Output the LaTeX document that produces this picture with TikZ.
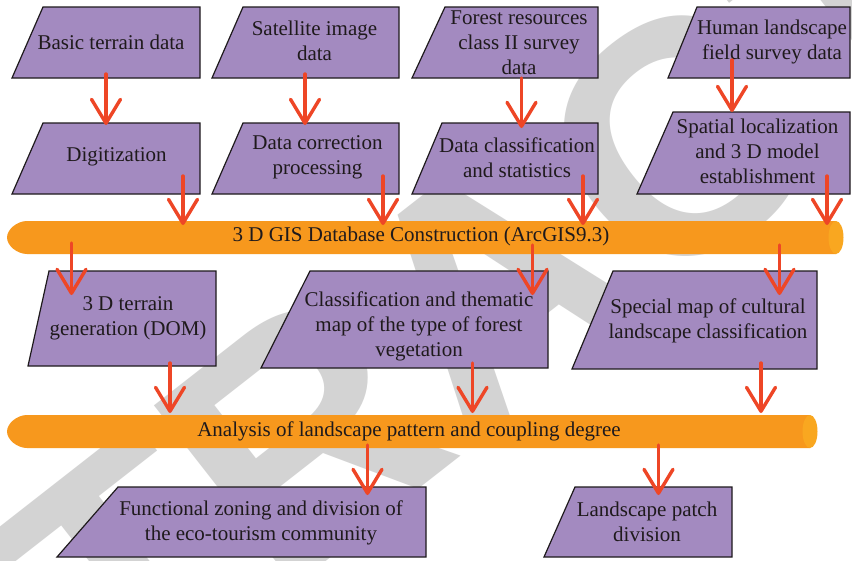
\documentclass[tikz,border=0pt]{standalone}
\usepackage{fontspec}
\setmainfont{Liberation Serif}
\newfontfamily\markfont{Liberation Sans}
\usetikzlibrary{arrows.meta,calc}

\definecolor{boxfill}{HTML}{A38AC0}
\definecolor{boxline}{HTML}{1E1A1C}
\definecolor{pipebody}{HTML}{F7981D}
\definecolor{pipecap}{HTML}{F9A720}
\definecolor{flowred}{HTML}{EE4626}
\definecolor{markgray}{HTML}{D3D3D3}
\definecolor{inktext}{HTML}{1F1A1C}

\tikzset{
  boxshape/.style={fill=boxfill, draw=boxline, line width=1.2pt, line join=miter},
  boxframe/.style={inner sep=0pt, outer sep=0pt, draw=none},
  boxtext/.style={font=\fontsize{21}{25}\selectfont, align=center, inner sep=0pt, text=inktext},
  flow/.style={draw=flowred, line width=3.4pt, line cap=round,
    -{Straight Barb[length=24pt, width=29pt, round]}},
  watermark/.style={font=\markfont\bfseries\fontsize{332}{332}\selectfont,
    text=markgray, inner sep=0pt},
}

% slanted box: #1 name, #2 bottom-left x, #3 top-left x, #4 right x,
% #5 top y, #6 bottom y, #7 text x, #8 text y, #9 text
\newcommand\slantbox[9]{%
  \filldraw[boxshape] (#2,#6) -- (#3,#5) -- (#4,#5) -- (#4,#6) -- cycle;
  \node[boxframe, minimum width={(#4-#2)*1pt}, minimum height={(#6-#5)*1pt}]
    (#1) at ({(#2+#4)/2},{(#5+#6)/2}) {};
  \node[boxtext] (#1-text) at (#7,#8) {#9};
}

% horizontal pipe: #1 name, #2 left tip x, #3 end-cap centre x, #4 top y,
% #5 bottom y, #6 text x, #7 text y, #8 text
\newcommand\flowpipe[8]{%
  \fill[pipebody] ({#2+20},#4) -- (#3,#4) -- (#3,#5) -- ({#2+20},#5)
     .. controls ({#2+10},#5) and (#2,{(#4+#5)/2+8}) .. (#2,{(#4+#5)/2})
     .. controls (#2,{(#4+#5)/2-8}) and ({#2+10},#4) .. ({#2+20},#4) -- cycle;
  \fill[pipecap] (#3,{(#4+#5)/2}) ellipse[x radius=7.5, y radius={(#5-#4)/2}];
  \node[boxframe, minimum width={(#3+7.5-#2)*1pt}, minimum height={(#5-#4)*1pt}]
    (#1) at ({(#2+#3+7.5)/2},{(#4+#5)/2}) {};
  \node[boxtext] (#1-text) at (#6,#7) {#8};
}

\begin{document}
\begin{tikzpicture}[x=1pt, y=-1pt]
  \clip (0,0) rectangle (852,560);
  \fill[white] (0,0) rectangle (852,560);

  % background stamp
  \node[watermark, rotate=38] (stamp) at (491,288) {RETRACTED};

  % pipes
  \flowpipe{gis}{7}{836}{221}{254}{421}{236.5}{3 D GIS Database Construction (ArcGIS9.3)}
  \flowpipe{pattern}{7}{810}{415}{448}{409}{431.5}{Analysis of landscape pattern and coupling degree}

  % data sources
  \slantbox{terrain}{12}{43}{200}{7}{78}{111}{42}{Basic terrain data}
  \slantbox{satellite}{212}{243}{399}{7}{78}{314.5}{41}{Satellite image\\data}
  \slantbox{forest}{412}{445}{598}{7}{78}{519}{43}{Forest resources\\class II survey\\data}
  \slantbox{human}{668}{697}{850}{7}{78}{772}{41.5}{Human landscape\\field survey data}

  % preprocessing
  \slantbox{digit}{12}{43}{200}{123}{194}{116.5}{157}{Digitization}
  \slantbox{correct}{212}{243}{399}{123}{194}{317.5}{157.5}{Data correction\\processing}
  \slantbox{classify}{412}{442}{598}{123}{194}{517}{157.5}{Data classification\\and statistics}
  \slantbox{spatial}{637}{673}{850}{112}{194}{757.5}{151}{Spatial localization\\and 3 D model\\establishment}

  % thematic products
  \slantbox{dom}{28}{49}{216}{271}{366}{128}{318.5}{3 D terrain\\generation (DOM)}
  \slantbox{vegetation}{261}{310}{548}{271}{368}{419}{326}{Classification and thematic\\map of the type of forest\\vegetation}
  \slantbox{cultural}{572}{613}{817}{271}{369}{708}{321}{Special map of cultural\\landscape classification}

  % results
  \slantbox{zoning}{57}{118}{426}{487}{557}{261}{522.5}{Functional zoning and division of\\the eco-tourism community}
  \slantbox{patch}{544}{575}{732}{487}{557}{647}{521.5}{Landscape patch\\division}

  % connectors
  \draw[flow] ($(terrain.south)+(0,-4)$)    -- ($(terrain.south |- digit.north)+(0,2)$);
  \draw[flow] ($(satellite.south)+(-0.5,-4)$) -- ($(satellite.south |- correct.north)+(-0.5,2)$);
  \draw[flow] ($(forest.south)+(16.5,0)$)   -- ($(forest.south |- classify.north)+(16.5,5)$);
  \draw[flow] ($(human.south)+(-27,-18)$)   -- ($(human.south |- spatial.north)+(-27,0)$);

  \draw[flow] ($(digit.south)+(77,-18)$)    -- ($(digit.south |- gis.north)+(77,4)$);
  \draw[flow] ($(correct.south)+(77.5,-18)$) -- ($(correct.south |- gis.north)+(77.5,4)$);
  \draw[flow] ($(classify.south)+(78,-18)$) -- ($(classify.south |- gis.north)+(78,4)$);
  \draw[flow] ($(spatial.south)+(83.5,-18)$) -- ($(spatial.south |- gis.north)+(83.5,4)$);

  \draw[flow] ($(gis.south)+(-353.75,-11)$) -- ($(gis.south |- dom.north)+(-353.75,24)$);
  \draw[flow] ($(gis.south)+(107.25,-9)$)   -- ($(gis.south |- vegetation.north)+(107.25,24)$);
  \draw[flow] ($(gis.south)+(354.25,-9)$)   -- ($(gis.south |- cultural.north)+(354.25,24)$);

  \draw[flow] ($(dom.south)+(48,-3)$)        -- ($(dom.south |- pattern.north)+(48,-2)$);
  \draw[flow] ($(vegetation.south)+(68,-5)$) -- ($(vegetation.south |- pattern.north)+(68,-2)$);
  \draw[flow] ($(cultural.south)+(66.5,-6)$) -- ($(cultural.south |- pattern.north)+(66.5,-2)$);

  \draw[flow] ($(pattern.south)+(-44.75,-3)$) -- ($(pattern.south |- zoning.north)+(-44.75,8)$);
  \draw[flow] ($(pattern.south)+(246.25,-3)$) -- ($(pattern.south |- patch.north)+(246.25,8)$);
\end{tikzpicture}
\end{document}
